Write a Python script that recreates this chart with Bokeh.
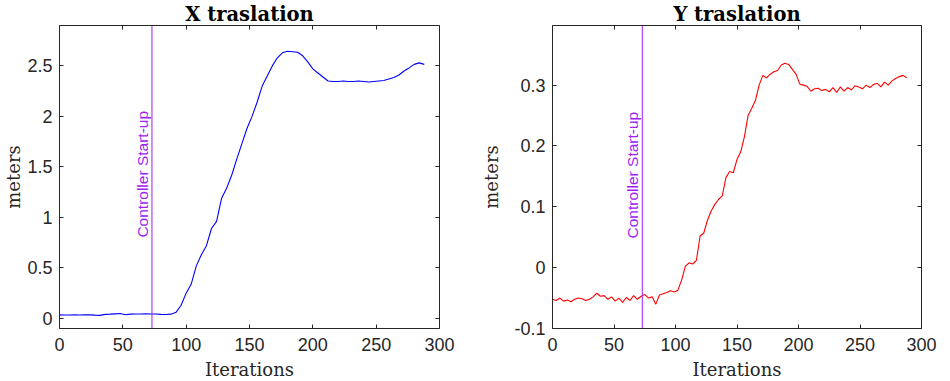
from math import pi
from bokeh.plotting import figure
from bokeh.layouts import row
from bokeh.models import (LinearAxis, Span, Label, Range1d, FixedTicker,
                          CustomJSTickFormatter)
from bokeh.embed import file_html
from bokeh.resources import INLINE

# ---------------- data ----------------
x_step = 4
x_trans = [0.035, 0.034, 0.033, 0.035, 0.034, 0.036, 0.035, 0.032, 0.030, 0.040,
           0.042, 0.045, 0.048, 0.036, 0.042, 0.044, 0.043, 0.046, 0.044, 0.043,
           0.040, 0.038, 0.042, 0.060, 0.130, 0.250, 0.340, 0.520, 0.630, 0.720,
           0.890, 0.960, 1.190, 1.290, 1.420, 1.580, 1.730, 1.880, 2.000, 2.140,
           2.300, 2.400, 2.500, 2.580, 2.630, 2.645, 2.640, 2.635, 2.600, 2.540,
           2.470, 2.430, 2.390, 2.350, 2.345, 2.345, 2.350, 2.345, 2.345, 2.350,
           2.345, 2.340, 2.345, 2.350, 2.355, 2.370, 2.385, 2.410, 2.450, 2.480,
           2.515, 2.530, 2.515]
x_iters = list(range(0, x_step * len(x_trans), x_step))

y_step = 3
y_trans = [-0.052, -0.054, -0.050, -0.055, -0.053, -0.056, -0.052, -0.050, -0.051, -0.054,
           -0.052, -0.048, -0.042, -0.047, -0.046, -0.052, -0.048, -0.055, -0.050, -0.057,
           -0.049, -0.054, -0.046, -0.052, -0.047, -0.044, -0.050, -0.048, -0.060, -0.045,
           -0.043, -0.041, -0.038, -0.040, -0.037, -0.020, 0.002, 0.008, 0.006, 0.012,
           0.052, 0.057, 0.078, 0.093, 0.104, 0.112, 0.118, 0.148, 0.158, 0.156,
           0.178, 0.190, 0.215, 0.250, 0.262, 0.275, 0.300, 0.316, 0.312, 0.318,
           0.322, 0.324, 0.333, 0.336, 0.334, 0.326, 0.318, 0.302, 0.300, 0.298,
           0.290, 0.294, 0.295, 0.291, 0.293, 0.289, 0.296, 0.288, 0.297, 0.290,
           0.296, 0.292, 0.299, 0.297, 0.294, 0.300, 0.296, 0.301, 0.303, 0.297,
           0.305, 0.300, 0.307, 0.311, 0.314, 0.316, 0.312]
y_iters = list(range(0, y_step * len(y_trans), y_step))

startup_iter = 73
startup_label = "Controller Start-up"
x_ticks = [0, 50, 100, 150, 200, 250, 300]
xplot_yticks = [0, 0.5, 1, 1.5, 2, 2.5]
yplot_yticks = [-0.1, 0, 0.1, 0.2, 0.3]

AX = "#262626"
PURPLE = "#a020f0"
fmt = CustomJSTickFormatter(code="return String(Math.round(tick*10)/10);")


def make(title, xs, ys, color, y_lo, y_hi, yticks, label_y,
         border_left, frame_w, border_right, ylabel_standoff):
    p = figure(width=border_left + frame_w + border_right, height=377,
               frame_width=frame_w, frame_height=303,
               min_border_left=border_left, min_border_right=border_right,
               min_border_top=22, min_border_bottom=52,
               x_range=Range1d(0, 300), y_range=Range1d(y_lo, y_hi),
               title=title, output_backend="svg", toolbar_location=None,
               background_fill_color="white", border_fill_color="white")
    p.title.text_font = "DejaVu Serif"
    p.title.text_font_style = "bold"
    p.title.text_font_size = "19.5px"
    p.title.text_color = "black"
    p.title.align = "center"
    p.title.standoff = 0
    p.title.offset = 0
    p.grid.visible = False
    p.outline_line_color = None

    for ax in (p.xaxis[0], p.yaxis[0]):
        ax.major_tick_in = 4
        ax.major_tick_out = 0
        ax.minor_tick_line_color = None
        ax.axis_line_color = AX
        ax.major_tick_line_color = AX
        ax.major_label_text_color = AX
        ax.major_label_text_font = "Liberation Sans"
        ax.major_label_text_font_size = "18px"
        ax.major_label_standoff = 7
        ax.axis_label_text_font = "DejaVu Serif"
        ax.axis_label_text_font_style = "normal"
        ax.axis_label_text_font_size = "18px"
        ax.axis_label_text_color = AX
        ax.formatter = fmt
    p.xaxis[0].ticker = FixedTicker(ticks=x_ticks)
    p.yaxis[0].ticker = FixedTicker(ticks=yticks)
    p.xaxis[0].axis_label = "Iterations"
    p.xaxis[0].major_label_standoff = 9
    p.xaxis[0].axis_label_standoff = 5
    p.yaxis[0].axis_label = "meters"
    p.yaxis[0].axis_label_standoff = ylabel_standoff

    for loc, tk in (("above", x_ticks), ("right", yticks)):
        a = LinearAxis(ticker=FixedTicker(ticks=tk), major_tick_in=4, major_tick_out=0,
                       minor_tick_line_color=None, axis_line_color=AX,
                       major_tick_line_color=AX, major_label_text_font_size="1px",
                       major_label_text_color=None, major_label_text_alpha=0,
                       major_label_standoff=0, axis_label=None)
        p.add_layout(a, loc)

    p.line(xs, ys, line_color=color, line_width=1.1)
    p.add_layout(Span(location=startup_iter, dimension="height",
                      line_color=PURPLE, line_width=1))
    p.add_layout(Label(x=startup_iter, y=label_y, x_offset=-1, text=startup_label,
                       angle=pi / 2, text_align="left", text_baseline="bottom",
                       text_font="Liberation Sans", text_font_size="15.5px",
                       text_color=PURPLE))
    return p


p1 = make("X traslation", x_iters, x_trans, "#0000ff", -0.1, 2.9, xplot_yticks, 0.80,
          58, 380, 34, 0)
p2 = make("Y traslation", y_iters, y_trans, "#ff0000", -0.1, 0.398, yplot_yticks, 0.048,
          79, 369, 16, 9)

layout = row(p1, p2, spacing=0)
open("out.html", "w").write(file_html(layout, INLINE))
